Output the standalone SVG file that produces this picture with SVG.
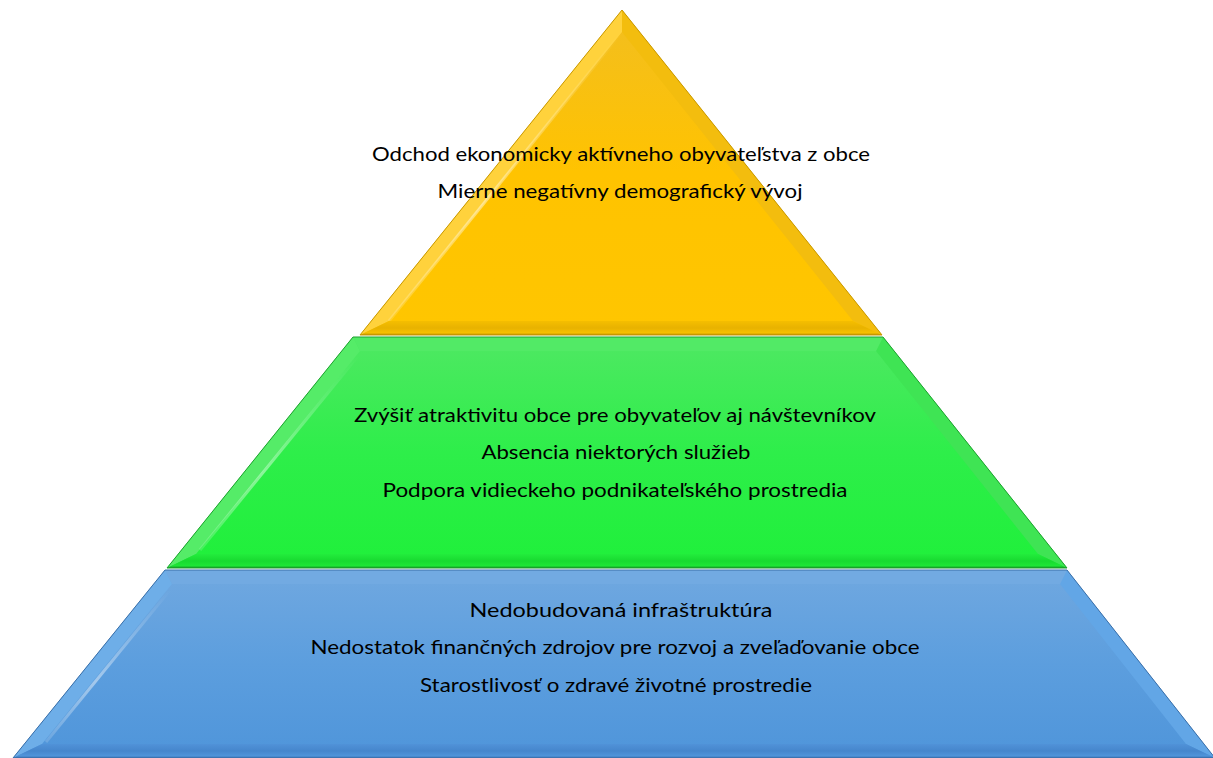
<svg xmlns="http://www.w3.org/2000/svg" width="1213" height="758" viewBox="0 0 1213 758">
<defs>
<linearGradient id="yMain" x1="0" y1="0" x2="0" y2="1">
<stop offset="0" stop-color="#F2BE20"/><stop offset="0.5" stop-color="#FFC300"/><stop offset="1" stop-color="#FFC600"/>
</linearGradient>
<linearGradient id="gMain" x1="0" y1="0" x2="0" y2="1">
<stop offset="0" stop-color="#4FE863"/><stop offset="0.5" stop-color="#2EEE4A"/><stop offset="1" stop-color="#1FF03A"/>
</linearGradient>
<linearGradient id="bMain" x1="0" y1="0" x2="0" y2="1">
<stop offset="0" stop-color="#70A8E0"/><stop offset="0.5" stop-color="#5C9EDE"/><stop offset="1" stop-color="#4F95DA"/>
</linearGradient>
<linearGradient id="bandY" x1="0" y1="0" x2="0" y2="1">
<stop offset="0" stop-color="#F5BE00"/><stop offset="0.5" stop-color="#E8B200"/><stop offset="0.85" stop-color="#F7C000"/><stop offset="1" stop-color="#B88A00"/>
</linearGradient>
<linearGradient id="bandG" x1="0" y1="0" x2="0" y2="1">
<stop offset="0" stop-color="#22EC3C"/><stop offset="0.5" stop-color="#18DA30"/><stop offset="0.85" stop-color="#1EE636"/><stop offset="1" stop-color="#0F8E20"/>
</linearGradient>
<linearGradient id="bandB" x1="0" y1="0" x2="0" y2="1">
<stop offset="0" stop-color="#5092D8"/><stop offset="0.5" stop-color="#4686CC"/><stop offset="0.85" stop-color="#5094DA"/><stop offset="1" stop-color="#3A70B0"/>
</linearGradient>
<linearGradient id="hl" x1="0" y1="0" x2="0" y2="1">
<stop offset="0" stop-color="#FFFFFF" stop-opacity="0"/><stop offset="0.6" stop-color="#FFFFFF" stop-opacity="0.45"/><stop offset="1" stop-color="#FFFFFF" stop-opacity="0.15"/>
</linearGradient>
</defs>
<style>
text{font-family:Lato,"Liberation Sans",sans-serif;font-size:20px;fill:#000;text-anchor:middle}
.hl{fill:none;stroke:url(#hl);stroke-width:3}
</style>

<g id="tier-top">
<polygon points="622,10 360,335 882,335" fill="url(#yMain)"/>
<polygon points="622,10 360,335 389,321 622,32" fill="#FFD23C"/>
<polyline class="hl" points="622,32 389,321"/>
<polygon points="622,10 882,335 853,321 622,32" fill="#F3BD0E"/>
<polygon points="360,335 882,335 853,321 389,321" fill="url(#bandY)"/>
<polygon points="622,10 360,335 882,335" fill="none" stroke="#C89800" stroke-width="1"/>
<text x="621" y="161" textLength="498" lengthAdjust="spacingAndGlyphs">Odchod ekonomicky aktívneho obyvateľstva z obce</text>
<text x="620" y="198" textLength="365" lengthAdjust="spacingAndGlyphs">Mierne negatívny demografický vývoj</text>
</g>

<g id="tier-middle">
<polygon points="353,337 883,337 1067,568 167,568" fill="url(#gMain)"/>
<polygon points="353,337 167,568 196,554 360,351" fill="#55EC68"/>
<polyline class="hl" points="358,356 200,550"/>
<polygon points="883,337 1067,568 1038,554 876,351" fill="#3FE454"/>
<polygon points="353,337 883,337 876,351 360,351" fill="#52EA66"/>
<polygon points="167,568 1067,568 1038,554 196,554" fill="url(#bandG)"/>
<polygon points="353,337 883,337 1067,568 167,568" fill="none" stroke="#1FA030" stroke-width="1"/>
<text x="615" y="422" textLength="522" lengthAdjust="spacingAndGlyphs">Zvýšiť atraktivitu obce pre obyvateľov aj návštevníkov</text>
<text x="616" y="459" textLength="269" lengthAdjust="spacingAndGlyphs">Absencia niektorých služieb</text>
<text x="615" y="497" textLength="465" lengthAdjust="spacingAndGlyphs">Podpora vidieckeho podnikateľského prostredia</text>
</g>

<g id="tier-bottom">
<polygon points="165,570 1067,570 1215,758 13,758" fill="url(#bMain)"/>
<polygon points="165,570 13,758 42,744 172,584" fill="#6EAEE8"/>
<polyline class="hl" points="170,590 46,742"/>
<polygon points="1067,570 1215,758 1186,744 1060,584" fill="#62A6E6"/>
<polygon points="165,570 1067,570 1060,584 172,584" fill="#72AAE2"/>
<polygon points="13,758 1215,758 1186,744 42,744" fill="url(#bandB)"/>
<polygon points="165,570 1067,570 1215,758 13,758" fill="none" stroke="#3A6FA8" stroke-width="1"/>
<text x="621" y="617" textLength="303" lengthAdjust="spacingAndGlyphs">Nedobudovaná infraštruktúra</text>
<text x="615" y="654" textLength="609" lengthAdjust="spacingAndGlyphs">Nedostatok finančných zdrojov pre rozvoj a zveľaďovanie obce</text>
<text x="616" y="692" textLength="392" lengthAdjust="spacingAndGlyphs">Starostlivosť o zdravé životné prostredie</text>
</g>
</svg>
